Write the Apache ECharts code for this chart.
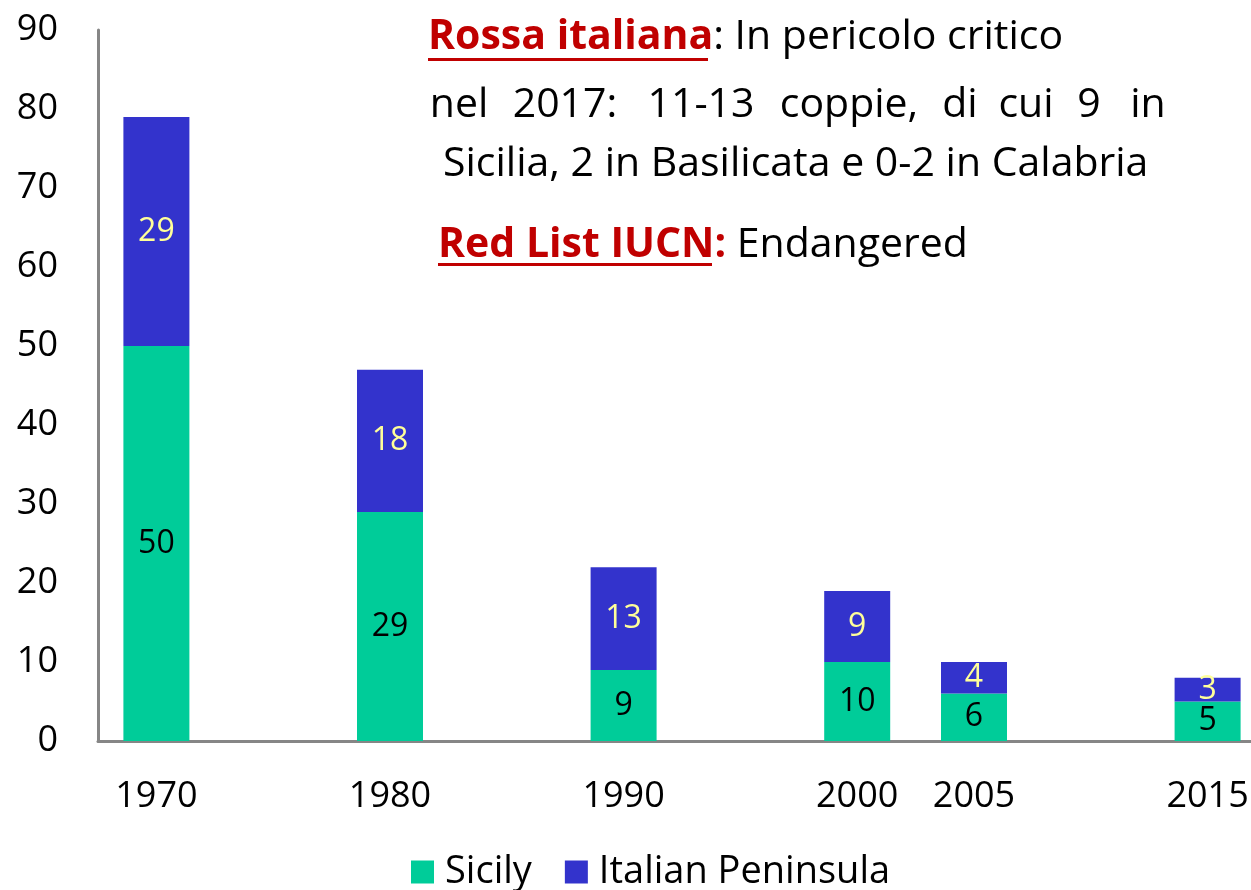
<!DOCTYPE html>
<html>
<head>
<meta charset="utf-8">
<script src="https://cdn.jsdelivr.net/npm/echarts@6/dist/echarts.min.js"></script>
<style>
  html, body { margin: 0; padding: 0; background: #fff; }
  #chart { width: 1251px; height: 890px; }
</style>
</head>
<body>
<div id="chart"></div>
<script>
  var years = [1970, 1980, 1990, 2000, 2005, 2015];
  var sicily = [50, 29, 9, 10, 6, 5];
  var peninsula = [29, 18, 13, 9, 4, 3];
  // l'asse x è in passi di 5 anni, come nell'originale
  var slots = ['1970', '1975', '1980', '1985', '1990', '1995', '2000', '2005', '2010', '2015'];
  var yTicks = [0, 10, 20, 30, 40, 50, 60, 70, 80, 90];

  var FONT = '"Open Sans", "Noto Sans", sans-serif';
  var RED = '#C00000';

  function bySlot(vals) {
    return slots.map(function (s) {
      var i = years.indexOf(+s);
      return i < 0 ? '-' : vals[i];
    });
  }

  // seconda riga giustificata: centro di ogni parola
  var line2 = [
    ['nel', 459], ['2017:', 565], ['11-13', 701], ['coppie,', 849],
    ['di', 960], ['cui', 1026], ['9', 1089], ['in', 1148]
  ];

  var graphics = [
    {
      type: 'text', x: 428, y: 17,
      style: {
        text: '{r|Rossa italiana}: In pericolo critico',
        font: '41px ' + FONT, fill: '#000', verticalAlign: 'top',
        rich: { r: { fontFamily: FONT, fontSize: 41, fontWeight: 'bold', fill: RED } }
      }
    },
    {
      type: 'text', x: 443, y: 144,
      style: { text: 'Sicilia, 2 in Basilicata e 0-2 in Calabria', font: '41px ' + FONT, fill: '#000', verticalAlign: 'top' }
    },
    {
      type: 'text', x: 438, y: 225,
      style: {
        text: '{r|Red List IUCN:} Endangered',
        font: '41px ' + FONT, fill: '#000', verticalAlign: 'top',
        rich: { r: { fontFamily: FONT, fontSize: 41, fontWeight: 'bold', fill: RED } }
      }
    },
    { type: 'rect', shape: { x: 428, y: 58, width: 280, height: 3 }, style: { fill: RED } },
    { type: 'rect', shape: { x: 438, y: 263, width: 274, height: 3 }, style: { fill: RED } }
  ];
  line2.forEach(function (w) {
    graphics.push({
      type: 'text', x: w[1], y: 85,
      style: { text: w[0], font: '41px ' + FONT, fill: '#000', align: 'center', verticalAlign: 'top' }
    });
  });

  var chart = echarts.init(document.getElementById('chart'));
  chart.setOption({
    animation: false,
    textStyle: { fontFamily: FONT },
    grid: {
      left: 98, top: 30, width: 1168, height: 711,
      containLabel: false, outerBoundsMode: 'none'
    },
    legend: {
      top: 853, left: 411, padding: 0,
      icon: 'rect', itemWidth: 23, itemHeight: 23, itemGap: 33,
      textStyle: { fontSize: 38, color: '#000', fontFamily: FONT, padding: [0, 0, 0, 6] },
      data: ['Sicily', 'Italian Peninsula']
    },
    xAxis: {
      type: 'category',
      data: slots,
      axisLine: { show: true, lineStyle: { color: '#868686', width: 3 } },
      axisTick: { show: false },
      splitLine: { show: false },
      axisLabel: {
        interval: function (idx, val) { return years.indexOf(+val) >= 0; },
        fontSize: 36, color: '#000', margin: 38
      }
    },
    yAxis: {
      type: 'value',
      min: 0, max: 90, interval: 10,
      axisLine: { show: true, lineStyle: { color: '#868686', width: 3 } },
      axisTick: { show: false },
      splitLine: { show: false },
      axisLabel: {
        customValues: yTicks,
        fontSize: 36, color: '#000', margin: 40
      }
    },
    series: [
      {
        name: 'Sicily', type: 'bar', stack: 'tot', barWidth: 66,
        itemStyle: { color: '#00CC99' },
        label: { show: true, position: 'inside', color: '#000', fontSize: 32, fontFamily: FONT },
        data: bySlot(sicily)
      },
      {
        name: 'Italian Peninsula', type: 'bar', stack: 'tot', barWidth: 66,
        itemStyle: { color: '#3333CC' },
        label: { show: true, position: 'inside', color: '#FFFF99', fontSize: 32, fontFamily: FONT },
        data: bySlot(peninsula)
      }
    ],
    graphic: graphics
  });
</script>
</body>
</html>
